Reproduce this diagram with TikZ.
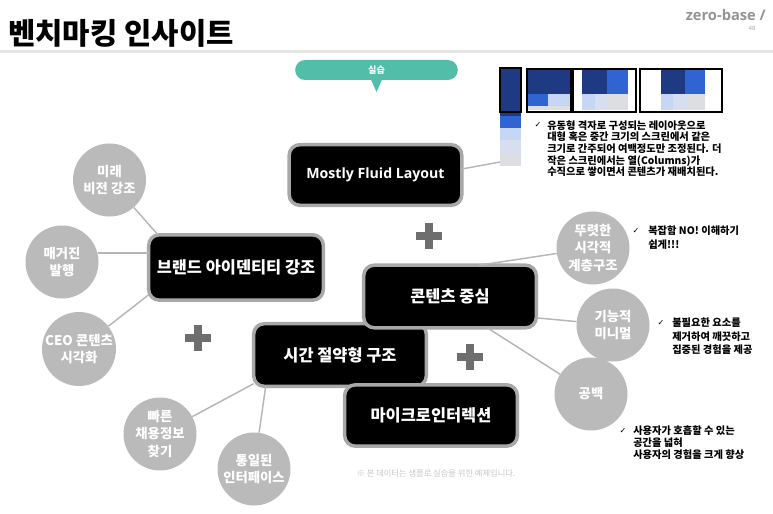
\documentclass[tikz,border=0pt]{standalone}
\usepackage{fontspec}
\setmainfont{Noto Sans CJK KR}
\newfontfamily\latinfont{Open Sans}
\newfontfamily\symfont{DejaVu Sans}
\definecolor{boxline}{RGB}{168,168,168}
\definecolor{topicgray}{RGB}{186,186,186}
\definecolor{linkgray}{RGB}{182,182,182}
\definecolor{plusgray}{RGB}{110,110,110}
\definecolor{labteal}{RGB}{82,190,170}
\definecolor{navy}{RGB}{30,58,130}
\definecolor{midblue}{RGB}{48,100,210}
\definecolor{paleblue}{RGB}{198,214,245}
\definecolor{paleblue2}{RGB}{214,222,240}
\definecolor{palegray}{RGB}{221,222,226}
\definecolor{rulegray}{RGB}{230,230,230}
\definecolor{footgray}{RGB}{200,200,200}

\begin{document}
\begin{tikzpicture}[x=0.75pt, y=-0.75pt,
    keybox/.style={draw=boxline, line width=2.6pt, fill=black, rounded corners=8pt, text=white, font=\fontsize{12.3pt}{14pt}\selectfont\bfseries, minimum width=129.5pt, minimum height=47pt, inner sep=0pt, outer sep=0pt},
    topic/.style={circle, fill=topicgray, text=white, font=\fontsize{10pt}{13.3pt}\selectfont\bfseries, minimum size=54.75pt, inner sep=0pt, align=center},
    link/.style={draw=linkgray, line width=1.1pt},
    note/.style={font=\fontsize{7.7pt}{8.8pt}\selectfont\bfseries, align=left, anchor=north west, inner sep=0pt},
    chk/.style={font=\symfont\fontsize{6pt}{6pt}\selectfont, inner sep=0pt},
    plusbar/.style={draw=plusgray, line width=6pt}
  ]
    \fill[white] (0,0) rectangle (773,513);
    \useasboundingbox (0,0) rectangle (773,513);

    \node[anchor=west, inner sep=0pt, font=\fontsize{22.3pt}{24pt}\selectfont\bfseries] (title) at (8,33) {벤치마킹 인사이트};
    \node[anchor=east, inner sep=0pt, text=black!42, font=\latinfont\bfseries\fontsize{11pt}{12pt}\selectfont] (logo) at (766,15) {zero-base /};
    \node[inner sep=0pt, text=black!35, font=\latinfont\fontsize{4.5pt}{5pt}\selectfont] (page) at (752,28) {48};
    \draw[rulegray, line width=2.2pt] (0,51.5) -- (773,51.5);

    \node[fill=labteal, rounded corners=7.5pt, minimum width=122pt, minimum height=15pt, inner sep=0pt, outer sep=0pt, text=white, font=\fontsize{6.8pt}{8pt}\selectfont\bfseries] (lab) at (376.5,70) {실습};
    \fill[labteal] ([xshift=-4pt]lab.south) -- ([yshift=-9pt]lab.south) -- ([xshift=4pt]lab.south) -- cycle;

    % layout thumbnails
    \fill[navy] (500,68) rectangle (521,116);
    \fill[midblue] (500,116) rectangle (521,128);
    \fill[paleblue] (500,128) rectangle (521,140);
    \fill[paleblue2] (500,140) rectangle (521,154);
    \fill[palegray] (500,154) rectangle (521,166);
    \draw[line width=1.1pt] (500,68) rectangle (521,112);

    \fill[navy] (527,69) rectangle (571,94);
    \fill[midblue] (527,94) rectangle (548,106);
    \fill[paleblue] (548,94) rectangle (571,106);
    \fill[palegray] (527,106) rectangle (571,110);
    \draw[line width=1.1pt] (527,69) rectangle (571,112);

    \fill[navy] (582,69) rectangle (607,94);
    \fill[midblue] (607,69) rectangle (628,94);
    \fill[paleblue] (582,94) rectangle (595,110);
    \fill[paleblue2] (595,94) rectangle (607,110);
    \fill[palegray] (607,94) rectangle (628,110);
    \draw[line width=1.1pt] (573,69) rectangle (636,112);

    \fill[navy] (661,69) rectangle (685,94);
    \fill[midblue] (685,69) rectangle (705,94);
    \fill[paleblue] (661,94) rectangle (673,110);
    \fill[paleblue2] (673,94) rectangle (687,110);
    \fill[palegray] (687,94) rectangle (705,110);
    \draw[line width=1.1pt] (640,69) rectangle (722,112);
    \coordinate (strip) at (500,162);

    \node[chk] (chk1) at (538,125) {✓};
    \node[note] (fluidnote) at (547,120) {유동형 격자로 구성되는 레이아웃으로\\대형 혹은 중간 크기의 스크린에서 같은\\크기로 간주되어 여백정도만 조정된다. 더\\작은 스크린에서는 열(Columns)가\\수직으로 쌓이면서 콘텐츠가 재배치된다.};

    \foreach \cx/\cy in {429/236, 198/338, 470/357} {
      \draw[plusbar] (\cx-13,\cy) -- (\cx+13,\cy);
      \draw[plusbar] (\cx,\cy-13) -- (\cx,\cy+13);
    }

    \node[keybox, minimum height=45.5pt, font=\latinfont\bfseries\fontsize{10.6pt}{13pt}\selectfont] (fluid) at (375.5,175) {Mostly Fluid Layout};
    \node[keybox, minimum width=131pt, minimum height=49pt] (brand) at (236,267.5) {브랜드 아이덴티티 강조};
    \node[keybox] (timesave) at (340,355) {시간 절약형 구조};
    \node[keybox] (content) at (450,296.5) {콘텐츠 중심};
    \node[keybox, minimum height=46pt] (micro) at (431,415.5) {마이크로인터렉션};

    \node[topic] (vision) at (109.5,180) {미래\\비전 강조};
    \node[topic] (mag) at (62,262) {매거진\\발행};
    \node[topic] (ceo) at (79,349) {CEO 콘텐츠\\시각화};
    \node[topic] (jobs) at (160,434) {빠른\\채용정보\\찾기};
    \node[topic] (unified) at (254,469) {통일된\\인터페이스};
    \node[topic] (hier) at (593,248) {뚜렷한\\시각적\\계층구조};
    \node[topic] (minimal) at (613,325) {기능적\\미니멀};
    \node[topic] (space) at (591,394) {공백};

    \draw[link] (vision) -- ([xshift=7pt]brand.north west);
    \draw[link] (mag.14) -- (brand.west |- mag.14);
    \draw[link] (ceo) -- ([yshift=4pt]brand.south west);
    \draw[link] (jobs) -- ([yshift=2pt]timesave.south west);
    \draw[link] (unified) -- ([xshift=9pt]timesave.south west);
    \draw[link] (hier) -- ([xshift=22pt]content.north);
    \draw[link] (minimal) -- ([yshift=-16pt]content.east);
    \draw[link] (space) -- ([xshift=28pt]content.south);
    \draw[link] ([yshift=4.5pt]fluid.east) -- (strip);

    \node[chk] (chk2) at (636,231) {✓};
    \node[note, font=\fontsize{7.7pt}{10.5pt}\selectfont\bfseries] (hiernote) at (648,226) {복잡함 NO! 이해하기\\쉽게!!!};
    \node[chk] (chk3) at (661,323) {✓};
    \node[note, font=\fontsize{7.7pt}{10pt}\selectfont\bfseries] (minnote) at (672,318) {불필요한 요소를\\제거하여 깨끗하고\\집중된 경험을 제공};
    \node[chk] (chk4) at (623,431) {✓};
    \node[note, font=\fontsize{7.7pt}{8.7pt}\selectfont\bfseries] (spacenote) at (633,426) {사용자가 호흡할 수 있는\\공간을 넓혀\\사용자의 경험을 크게 향상};

    \node[inner sep=0pt, text=footgray, font=\fontsize{6.2pt}{7pt}\selectfont] (foot) at (436,473) {※ 본 데이터는 샘플로 실습을 위한 예제입니다.};
  \end{tikzpicture}
\end{document}
